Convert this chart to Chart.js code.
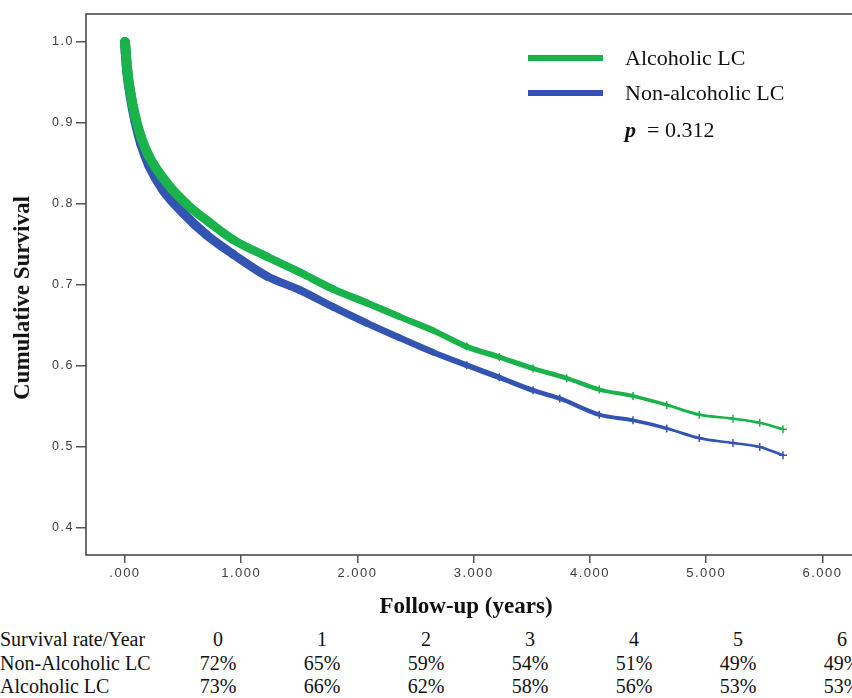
<!DOCTYPE html>
<html>
<head>
<meta charset="utf-8">
<script src="https://cdn.jsdelivr.net/npm/chart.js@4/dist/chart.umd.min.js"></script>
<style>
    html, body {
        margin: 0;
        padding: 0;
        background: #fff;
        width: 852px;
        height: 698px;
        overflow: hidden;
    }
    #page {
        position: relative;
        width: 900px;
        height: 698px;
    }
    #survie-chart {
        position: absolute;
        left: 0;
        top: 0;
    }
    .titre-axe {
        position: absolute;
        font-family: 'Liberation Serif', serif;
        font-size: 23px;
        font-weight: bold;
        color: #111;
        white-space: nowrap;
        line-height: 26px;
        transform: translate(-50%, -50%);
    }
    #titre-y {
        left: 22px;
        top: 298px;
        transform: translate(-50%, -50%) rotate(-90deg);
    }
    #titre-x {
        left: 466px;
        top: 606px;
    }
    .legende {
        position: absolute;
        left: 528px;
        font-family: 'Liberation Serif', serif;
        font-size: 22px;
        color: #111;
    }
    .legende .trait {
        position: absolute;
        left: 0;
        width: 75px;
        height: 6px;
    }
    .legende .texte {
        position: absolute;
        left: 97px;
        white-space: nowrap;
        line-height: 26px;
    }
    #tableau-survie {
        position: absolute;
        left: 0;
        top: 628px;
        border-collapse: collapse;
        font-family: 'Liberation Serif', serif;
        font-size: 20px;
        color: #111;
        table-layout: fixed;
        white-space: nowrap;
    }
    #tableau-survie td {
        padding: 0;
        height: 23.5px;
        line-height: 23.5px;
        text-align: center;
        width: 104px;
    }
    #tableau-survie td:first-child {
        text-align: left;
        width: 166px;
    }
</style>
</head>
<body>
<div id="page">
    <canvas id="survie-chart" width="900" height="620"></canvas>

    <div class="titre-axe" id="titre-y">Cumulative Survival</div>
    <div class="titre-axe" id="titre-x">Follow-up (years)</div>

    <div class="legende" style="top: 42px;">
        <div class="trait" style="top: 13px; background: rgb(26, 178, 74);"></div>
        <div class="texte" style="top: 3px;">Alcoholic LC</div>
    </div>
    <div class="legende" style="top: 77px;">
        <div class="trait" style="top: 13px; background: rgb(52, 84, 178);"></div>
        <div class="texte" style="top: 3px;">Non-alcoholic LC</div>
    </div>
    <div class="legende" style="top: 114px;">
        <div class="texte" style="top: 3px;"><b><i>p</i></b> &nbsp;= 0.312</div>
    </div>

    <table id="tableau-survie"></table>
</div>

<script>
"use strict";

// courbes de Kaplan-Meier (temps en années, survie cumulée)
const tempsAlcoolique = [0, 0.02, 0.05, 0.09, 0.14, 0.21, 0.36, 0.53, 0.73, 0.93, 1.22, 1.50, 1.79, 2.08, 2.36, 2.65, 2.94, 3.22, 3.51, 3.80, 4.08, 4.37, 4.66, 4.94, 5.23, 5.46, 5.66];
const survieAlcoolique = [1.0, 0.965, 0.935, 0.907, 0.882, 0.858, 0.826, 0.800, 0.777, 0.756, 0.735, 0.716, 0.695, 0.678, 0.661, 0.644, 0.624, 0.611, 0.597, 0.585, 0.571, 0.563, 0.552, 0.540, 0.535, 0.530, 0.522];

const tempsNonAlcoolique = [0, 0.02, 0.05, 0.09, 0.14, 0.21, 0.33, 0.50, 0.70, 0.93, 1.22, 1.50, 1.79, 2.08, 2.36, 2.65, 2.94, 3.22, 3.51, 3.74, 4.08, 4.37, 4.66, 4.94, 5.23, 5.46, 5.66];
const survieNonAlcoolique = [1.0, 0.963, 0.932, 0.902, 0.874, 0.847, 0.817, 0.789, 0.762, 0.738, 0.711, 0.694, 0.673, 0.653, 0.635, 0.617, 0.601, 0.586, 0.570, 0.560, 0.540, 0.533, 0.523, 0.511, 0.505, 0.500, 0.490];

// graduations des axes
const ticksX = [0, 1, 2, 3, 4, 5, 6];
const ticksY = [0.4, 0.5, 0.6, 0.7, 0.8, 0.9, 1.0];

// tableau du bas
const annees = ['0', '1', '2', '3', '4', '5', '6'];
const tauxNonAlcoolique = ['72%', '65%', '59%', '54%', '51%', '49%', '49%'];
const tauxAlcoolique = ['73%', '66%', '62%', '58%', '56%', '53%', '53%'];

/**
 * Epaisseur du trait : la courbe est très épaisse au début (beaucoup de marches
 * et de censures) et s'affine avec le temps
 */
function epaisseurTrait(t) {
    return Math.max(2.5, 10 - 1.5 * t);
}

/**
 * Cadre gris autour de la zone du graphique
 * + espacement des lettres des graduations (police SPSS assez large)
 */
const cadre = {
    id: 'cadre',
    beforeDraw(chart) {
        chart.ctx.letterSpacing = '1.5px';
    },
    afterDraw(chart) {
        const {ctx, chartArea: {left, top, right, bottom}} = chart;
        ctx.save();
        ctx.strokeStyle = '#4a4a4a';
        ctx.lineWidth = 1.6;
        ctx.strokeRect(left, top, right - left, bottom - top);
        ctx.restore();
    }
};

function serie(temps, survie) {
    return temps.map((t, i) => ({x: t, y: survie[i]}));
}

function dataset(label, couleur, temps, survie) {
    return {
        label: label,
        data: serie(temps, survie),
        borderColor: couleur,
        backgroundColor: couleur,
        borderCapStyle: 'round',
        borderJoinStyle: 'round',
        cubicInterpolationMode: 'monotone',
        pointStyle: 'cross',
        pointBorderWidth: 1.5,
        pointRadius: (ctx) => (ctx.dataIndex === 0 || temps[ctx.dataIndex] >= 2.9) ? 4 : 0,
        segment: {
            borderWidth: (ctx) => epaisseurTrait(ctx.p0.parsed.x)
        }
    };
}

const graphSurvie = (function () {
    const ctx = document.getElementById('survie-chart');
    let chart;

    function init() {
        const config = {
            type: 'line',
            data: {
                datasets: [
                    dataset('Alcoholic LC', 'rgb(26, 178, 74)', tempsAlcoolique, survieAlcoolique),
                    dataset('Non-alcoholic LC', 'rgb(52, 84, 178)', tempsNonAlcoolique, survieNonAlcoolique)
                ]
            },
            options: {
                responsive: false,
                animation: false,
                layout: {
                    padding: {top: 14, right: 31, left: 0, bottom: 0}
                },
                plugins: {
                    legend: {display: false},
                    tooltip: {enabled: false}
                },
                scales: {
                    x: {
                        type: 'linear',
                        min: -0.335,
                        max: 6.4,
                        afterBuildTicks: (scale) => {
                            scale.ticks = ticksX.map(v => ({value: v}));
                        },
                        afterFit: (scale) => {
                            scale.height = 65;
                        },
                        border: {display: false},
                        grid: {
                            drawOnChartArea: false,
                            drawTicks: true,
                            tickLength: 8,
                            color: '#555',
                            lineWidth: 1.5
                        },
                        ticks: {
                            padding: 3,
                            maxRotation: 0,
                            color: '#3c3c3c',
                            font: {family: "'Liberation Sans', Arial, sans-serif", size: 13},
                            callback: (value) => value === 0 ? '.000' : value.toFixed(3)
                        }
                    },
                    y: {
                        type: 'linear',
                        min: 0.3667,
                        max: 1.0346,
                        afterBuildTicks: (scale) => {
                            scale.ticks = ticksY.map(v => ({value: v}));
                        },
                        afterFit: (scale) => {
                            scale.width = 86;
                        },
                        border: {display: false},
                        grid: {
                            drawOnChartArea: false,
                            drawTicks: true,
                            tickLength: 10,
                            color: '#555',
                            lineWidth: 1.5
                        },
                        ticks: {
                            padding: 2,
                            color: '#3c3c3c',
                            font: {family: "'Liberation Sans', Arial, sans-serif", size: 12.5},
                            callback: (value) => value.toFixed(1)
                        }
                    }
                }
            },
            plugins: [cadre]
        };

        chart = new Chart(ctx, config);
    }

    return {
        init
    };
})();

/**
 * Tableau des taux de survie par année
 */
const tableauSurvie = (function () {
    const table = document.getElementById('tableau-survie');

    function ligne(titre, valeurs) {
        const tr = document.createElement('tr');
        [titre].concat(valeurs).forEach((v) => {
            const td = document.createElement('td');
            td.textContent = v;
            tr.appendChild(td);
        });
        table.appendChild(tr);
    }

    function init() {
        ligne('Survival rate/Year', annees);
        ligne('Non-Alcoholic LC', tauxNonAlcoolique);
        ligne('Alcoholic LC', tauxAlcoolique);
    }

    return {
        init
    };
})();

graphSurvie.init();
tableauSurvie.init();
</script>
</body>
</html>
